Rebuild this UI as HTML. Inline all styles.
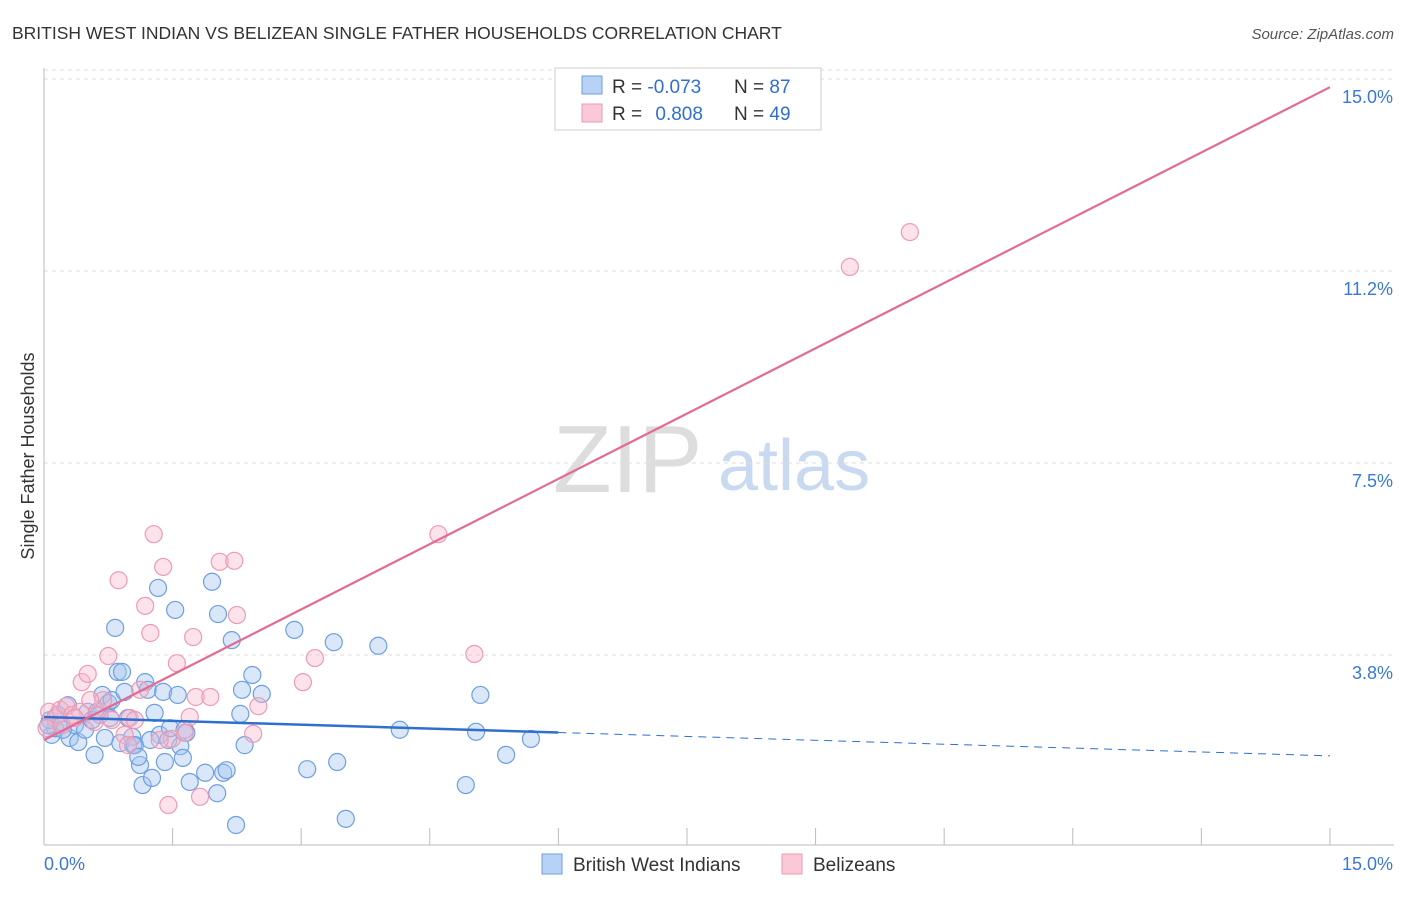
<!DOCTYPE html>
<html><head><meta charset="utf-8"><style>
body{margin:0;background:#fff;font-family:"Liberation Sans",sans-serif}
svg text{font-family:"Liberation Sans",sans-serif}
</style></head><body>
<svg width="1406" height="892" viewBox="0 0 1406 892" xmlns="http://www.w3.org/2000/svg">
<text x="12" y="39" font-size="17.5" fill="#333">BRITISH WEST INDIAN VS BELIZEAN SINGLE FATHER HOUSEHOLDS CORRELATION CHART</text>
<text x="1394" y="39" font-size="15" fill="#555" font-style="italic" text-anchor="end">Source: ZipAtlas.com</text>
<g>
<text x="553" y="492" font-size="96" fill="#ddd" font-family="Liberation Serif,serif">ZIP</text>
<text x="718" y="490" font-size="72" fill="#c8d9f0">atlas</text>
</g>
<g id="grid"></g>
<g id="axes"></g>
<g id="pts"></g>
<g id="lines"></g>
<text x="34" y="456" font-size="18" fill="#333" text-anchor="middle" transform="rotate(-90 34 456)">Single Father Households</text>
<g>
<rect x="555" y="68" width="266" height="62" fill="#fff" stroke="#ccc"/>
<rect x="582" y="76" width="20" height="18" fill="#b7d2f5" stroke="#6e9fe0"/>
<rect x="582" y="104" width="20" height="18" fill="#fac8d6" stroke="#ee9ab4"/>
<text x="612" y="93" font-size="19" fill="#333">R = <tspan fill="#2f6fd0">-0.073</tspan></text>
<text x="734" y="93" font-size="19" fill="#333">N = <tspan fill="#2f6fd0">87</tspan></text>
<text x="612" y="120" font-size="19" fill="#333">R = <tspan fill="#2f6fd0" dx="8">0.808</tspan></text>
<text x="734" y="120" font-size="19" fill="#333">N = <tspan fill="#2f6fd0">49</tspan></text>
</g>
<g>
<rect x="542" y="854" width="20" height="20" fill="#b7d2f5" stroke="#6e9fe0"/>
<text x="573" y="871" font-size="19" fill="#333">British West Indians</text>
<rect x="782" y="854" width="20" height="20" fill="#fac8d6" stroke="#ee9ab4"/>
<text x="813" y="871" font-size="19" fill="#333">Belizeans</text>
</g>
</svg>
<script>
const yTicks=[3.75,7.5,11.25,15];
const yTickLabels=["3.8%","7.5%","11.2%","15.0%"];
const xTicks=[0,1.5,3,4.5,6,7.5,9,10.5,12,13.5,15];
const xMinLabel="0.0%", xMaxLabel="15.0%";
const blueX=[.09,.13,.07,.19,.28,.30,.40,.36,.48,.51,.59,.65,.68,.71,.75,.79,.83,.86,.91,.94,.89,.98,1.03,1.04,1.06,1.12,1.15,1.18,1.21,1.26,1.29,1.33,1.35,1.39,1.41,1.45,1.47,1.53,1.56,1.59,1.62,1.64,1.70,1.88,1.96,2.02,2.03,2.09,2.13,2.19,2.24,2.29,2.31,2.34,2.43,2.54,2.92,3.07,3.42,3.38,3.52,3.90,4.15,4.92,5.04,5.09,5.39,5.68,.05,.16,.22,.56,.62,.77,1.24,1.66,1.10];
const blueY=[2.19,2.32,2.48,2.44,2.77,2.13,2.05,2.38,2.29,2.64,1.80,2.58,2.97,2.13,2.81,2.87,4.28,3.42,3.42,3.03,2.03,2.52,2.15,1.99,1.99,1.60,1.21,3.22,3.07,1.35,2.62,5.06,2.19,3.03,1.66,2.09,2.32,4.63,2.97,1.97,1.74,2.29,1.27,1.45,5.18,1.05,4.55,1.45,1.50,4.04,.43,2.60,3.07,1.99,3.36,2.99,4.24,1.52,1.66,4.00,.55,3.93,2.29,1.21,2.25,2.97,1.80,2.11,2.38,2.58,2.29,2.48,2.64,2.52,2.09,2.23,1.76];
const pinkX=[.06,.13,.19,.26,.33,.42,.44,.51,.59,.65,.75,.79,.87,.94,1.00,1.06,1.12,1.18,1.24,1.28,1.39,1.45,1.49,1.55,1.64,1.70,1.74,1.77,1.82,1.94,2.05,2.22,2.25,2.44,2.50,3.02,3.16,4.60,5.02,9.40,10.10,.03,.21,.36,.98,1.35,.69,.54];
const pinkY=[2.64,2.52,2.68,2.75,2.58,2.64,3.22,3.38,2.44,2.64,3.73,2.48,5.21,2.19,2.52,2.48,3.07,4.71,4.18,6.11,5.47,.82,2.11,3.59,2.23,2.54,4.10,2.93,.98,2.93,5.57,5.59,4.53,2.21,2.75,3.22,3.69,6.11,3.77,11.33,12.01,2.32,2.38,2.52,1.99,2.09,2.87,2.87];
const blueTrend=[2.54,1.78]; const blueSolidEnd=6;
const pinkTrend=[2.09,14.84];
const X=v=>44+v*85.73, Y=v=>847-v*51.2;
const NS="http://www.w3.org/2000/svg";
function mk(parent,tag,attrs){const e=document.createElementNS(NS,tag);for(const k in attrs)e.setAttribute(k,attrs[k]);document.getElementById(parent).appendChild(e);return e;}
yTicks.forEach((t,i)=>{
 const g=mk('grid','line',{x1:44,x2:1394,y1:Y(t),y2:Y(t),stroke:'#ddd','stroke-dasharray':'4,4'});
 
 
 const l=mk('axes','text',{x:1393,y:Y(t)+24,'font-size':18,fill:'#3a78d8','text-anchor':'end'});
 l.textContent=yTickLabels[i];
 
 
});
const tg=mk('grid','line',{x1:44,x2:1394,y1:Y(15)-9,y2:Y(15)-9,stroke:'#ddd','stroke-dasharray':'4,4'});


const ax=mk('axes','line',{x1:44,x2:1394,y1:845,y2:845,stroke:'#bbb'});


const ay=mk('axes','line',{x1:44,x2:44,y1:68,y2:845,stroke:'#bbb'});


xTicks.forEach(t=>{
 const k=mk('axes','line',{x1:X(t),x2:X(t),y1:828,y2:845,stroke:'#bbb'});
 
 
});
const xl0=mk('axes','text',{x:44,y:870,'font-size':18,fill:'#3a78d8'});xl0.textContent=xMinLabel;


const xl1=mk('axes','text',{x:1393,y:870,'font-size':18,fill:'#3a78d8','text-anchor':'end'});xl1.textContent=xMaxLabel;


blueX.forEach((v,i)=>{
 const c=mk('pts','circle',{cx:X(v),cy:Y(blueY[i]),r:8.5,fill:'rgba(160,196,240,0.4)',stroke:'#6e9fe0','stroke-width':1.2});
 
 
});
pinkX.forEach((v,i)=>{
 const c=mk('pts','circle',{cx:X(v),cy:Y(pinkY[i]),r:8.5,fill:'rgba(248,185,205,0.4)',stroke:'#ee9ab4','stroke-width':1.2});
 
 
});
const bAt=x=>blueTrend[0]+(blueTrend[1]-blueTrend[0])*x/15;
const b1=mk('lines','line',{x1:X(0),y1:Y(bAt(0)),x2:X(blueSolidEnd),y2:Y(bAt(blueSolidEnd)),stroke:'#2f6fd0','stroke-width':2.5});


const b2=mk('lines','line',{x1:X(blueSolidEnd),y1:Y(bAt(blueSolidEnd)),x2:X(15),y2:Y(bAt(15)),stroke:'#2f6fd0','stroke-width':1,'stroke-dasharray':'8,6'});


const p1=mk('lines','line',{x1:X(0),y1:Y(pinkTrend[0]),x2:X(15),y2:Y(pinkTrend[1]),stroke:'#e46a94','stroke-width':2.2});


</script>
</body></html>
